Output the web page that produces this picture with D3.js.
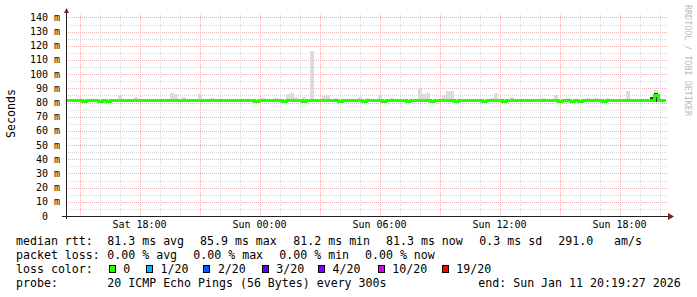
<!DOCTYPE html>
<html>
<head>
<meta charset="utf-8">
<title>SmokePing</title>
<script src="https://cdn.jsdelivr.net/npm/d3@7"></script>
<style>
  body { margin: 0; background: #fff; }
  svg text { font-family: "DejaVu Sans Mono", monospace; fill: #000; }
</style>
</head>
<body>
<div id="chart"></div>
<script>
// 30 hour window, one value every 12 minutes
const endTime = new Date(Date.UTC(2026, 0, 11, 20, 19, 27));
const spanHours = 30;
const stepMinutes = 12;

const rttMedian = [
  81.3,81.3,81.3,81.3,80.7,81.3,81.3,81.3,80.7,81.3,
  80.7,81.3,81.3,81.3,81.3,81.3,81.3,81.3,81.3,81.3,
  81.3,81.3,81.3,81.3,81.3,81.3,81.3,81.3,81.3,81.3,
  81.3,81.3,81.3,81.3,81.3,81.3,81.3,81.3,81.3,81.3,
  81.3,81.3,81.3,81.3,81.3,81.3,81.3,80.7,81.3,81.3,
  81.3,81.3,81.3,81.3,80.7,81.3,81.3,81.3,81.3,80.7,
  81.3,81.3,81.3,81.3,81.3,81.3,81.3,81.3,80.7,81.3,
  81.3,81.3,81.3,81.3,80.7,81.3,81.3,81.3,81.3,80.7,
  81.3,81.3,81.3,81.3,81.3,80.7,81.3,81.3,81.3,81.3,
  81.3,80.7,81.3,81.3,81.3,81.3,81.3,80.7,81.3,81.3,
  81.3,81.3,81.3,81.3,80.7,81.3,81.3,81.3,81.3,80.7,
  81.3,81.3,81.3,81.3,81.3,81.3,81.3,81.3,81.3,81.3,
  81.3,81.3,81.3,80.7,81.3,81.3,80.7,81.3,80.7,81.3,
  81.3,81.3,81.3,81.3,80.7,81.3,81.3,81.3,81.3,81.3,
  81.3,81.3,81.3,81.3,81.3,81.3,81.3,85.3,81.3,81.3
];

const rttMax = [
  81.9,81.9,81.9,81.9,81.9,81.9,81.9,81.9,81.9,81.9,
  81.9,81.9,81.9,85,81.9,81.9,81.9,84,81.9,81.9,
  81.9,81.9,81.9,81.9,81.9,81.9,87,86,81.9,84,
  81.9,81.9,81.9,86,81.9,81.9,83.5,81.9,81.9,81.9,
  81.9,81.9,81.9,81.9,81.9,81.9,81.9,81.9,81.9,83,
  81.9,81.9,83.5,81.9,81.9,86,87,84,81.9,84,
  81.9,116,81.9,81.9,84.5,85,81.9,83.5,81.9,81.9,
  81.9,81.9,81.9,84,81.9,83,81.9,81.9,85.3,81.9,
  81.9,83.5,81.9,81.9,81.9,81.9,81.9,81.9,90.5,86,
  86.5,81.9,81.9,81.9,85,88,88,81.9,81.9,81.9,
  81.9,81.9,81.9,81.9,81.9,81.9,83.5,86.5,81.9,81.9,
  81.9,84,81.9,81.9,81.9,81.9,81.9,81.9,81.9,83,
  81.9,81.9,85,81.9,81.9,83,81.9,81.9,81.9,81.9,
  83.5,81.9,83,81.9,81.9,83,81.9,81.9,81.9,81.9,
  88,81.9,81.9,81.9,81.9,81.9,84,88.9,81.9,81.9
];

// [step index, low, high] of the dense part of the smoke
const darkSmoke = [[146, 80.5, 84], [147, 80.5, 86.6]];

const yTicks = [0, 10, 20, 30, 40, 50, 60, 70, 80, 90, 100, 110, 120, 130, 140];
const xTickLabels = ["Sat 18:00", "Sun 00:00", "Sun 06:00", "Sun 12:00", "Sun 18:00"];

const lossLabels = ["0", "1/20", "2/20", "3/20", "4/20", "10/20", "19/20"];
const lossColors = ["#26ff00", "#00b8ff", "#0059ff", "#5e00ff", "#7e00ff", "#dd00ff", "#ff0000"];

const rttStats = ["81.3 ms avg", "85.9 ms max", "81.2 ms min", "81.3 ms now", "0.3 ms sd", "291.0", "am/s"];
const lossStats = ["0.00 % avg", "0.00 % max", "0.00 % min", "0.00 % now"];
const probeText = "20 ICMP Echo Pings (56 Bytes) every 300s";
const endText = "end: Sun Jan 11 20:19:27 2026";

const w = 697, h = 297;
const padLeft = 66, padRight = 666, padTop = 16, padBottom = 216;

const svg = d3.select('#chart').append('svg')
    .attr('width', w).attr('height', h);

const startTime = new Date(endTime.getTime() - spanHours * 3600e3);

const x = d3.scaleUtc().domain([startTime, endTime]).range([padLeft, padRight]);
const y = d3.scaleLinear().domain([0, 141]).range([padBottom, padTop]);

const crisp = v => Math.round(v) + 0.5;

// grid
const grid = svg.append('g');
d3.range(5, 141, 5).forEach(v => {
    grid.append('line')
        .attr('x1', padLeft).attr('x2', padRight + 2)
        .attr('y1', crisp(y(v))).attr('y2', crisp(y(v)))
        .attr('stroke', v % 10 ? '#dadada' : '#e8b2b2')
        .attr('stroke-dasharray', '1,1');
});
d3.utcHour.range(startTime, endTime).forEach(t => {
    grid.append('line')
        .attr('x1', crisp(x(t))).attr('x2', crisp(x(t)))
        .attr('y1', padTop - 2).attr('y2', padBottom + 2)
        .attr('stroke', t.getUTCHours() % 3 ? '#dadada' : '#e8b2b2')
        .attr('stroke-dasharray', '1,1');
});

// data points
const pts = rttMedian.map((m, i) => ({
    t: new Date(startTime.getTime() + i * stepMinutes * 60e3),
    med: m,
    max: rttMax[i]
}));
pts.push({ t: endTime, med: rttMedian[rttMedian.length - 1], max: rttMax[rttMax.length - 1] });

// smoke
svg.append('path')
    .datum(pts)
    .attr('fill', '#dcdcdc')
    .attr('shape-rendering', 'crispEdges')
    .attr('d', d3.area()
        .curve(d3.curveStepAfter)
        .x(d => x(d.t))
        .y0(d => y(d.med))
        .y1(d => y(d.max)));

svg.selectAll('rect.dark')
    .data(darkSmoke)
    .enter()
    .append('rect')
    .attr('class', 'dark')
    .attr('x', d => x(pts[d[0]].t))
    .attr('width', d => x(pts[d[0] + 1].t) - x(pts[d[0]].t))
    .attr('y', d => y(d[2]))
    .attr('height', d => y(d[1]) - y(d[2]))
    .attr('fill', '#333333')
    .attr('shape-rendering', 'crispEdges');

// median line
svg.append('path')
    .datum(pts)
    .attr('fill', 'none')
    .attr('stroke', lossColors[0])
    .attr('stroke-width', 3)
    .attr('shape-rendering', 'crispEdges')
    .attr('d', d3.line()
        .curve(d3.curveStepAfter)
        .x(d => x(d.t))
        .y(d => y(d.med)));

// axes
svg.append('line')
    .attr('x1', padLeft - 4).attr('x2', padRight + 3)
    .attr('y1', padBottom + 0.5).attr('y2', padBottom + 0.5)
    .attr('stroke', '#1f1f1f');
svg.append('line')
    .attr('x1', padLeft + 0.5).attr('x2', padLeft + 0.5)
    .attr('y1', padTop - 4).attr('y2', padBottom + 3)
    .attr('stroke', '#1f1f1f');
svg.append('path')
    .attr('d', 'M' + (padLeft - 2) + ',' + (padTop - 3) + 'L' + (padLeft + 3) + ',' + (padTop - 3) + 'L' + (padLeft + 0.5) + ',' + (padTop - 8) + 'Z')
    .attr('fill', '#7f1f1f');
svg.append('path')
    .attr('d', 'M' + (padRight + 2) + ',' + (padBottom - 3) + 'L' + (padRight + 2) + ',' + (padBottom + 4) + 'L' + (padRight + 8) + ',' + (padBottom + 0.5) + 'Z')
    .attr('fill', '#7f1f1f');

// y labels
svg.selectAll('text.ylab')
    .data(yTicks)
    .enter()
    .append('text')
    .attr('class', 'ylab')
    .attr('x', 60)
    .attr('y', d => y(d) + 3.5)
    .attr('text-anchor', 'end')
    .attr('font-size', '10px')
    .text(d => d ? d + ' m' : '0\u00a0\u00a0');

// x labels
const xTicks = x.ticks(d3.utcHour.every(6));
svg.selectAll('text.xlab')
    .data(xTicks)
    .enter()
    .append('text')
    .attr('class', 'xlab')
    .attr('x', d => x(d))
    .attr('y', 228)
    .attr('text-anchor', 'middle')
    .attr('font-size', '10px')
    .text((d, i) => xTickLabels[i]);

// axis title
svg.append('text')
    .attr('transform', 'translate(14.5,113.5) rotate(-90)')
    .attr('text-anchor', 'middle')
    .attr('font-size', '11.6px')
    .text('Seconds');

svg.append('text')
    .attr('transform', 'translate(685,5) rotate(90)')
    .attr('font-size', '8.4px')
    .style('fill', '#bbbbbb')
    .text('RRDTOOL / TOBI OETIKER');

// legend
const lg = svg.append('g').attr('font-size', '11.6px');
const row = (label, yy) => lg.append('text').attr('x', 16).attr('y', yy).text(label);

row('median rtt:', 245);
const rttX = [107.3, 200, 293.3, 386, 479.3, 558.3, 614];
rttStats.forEach((s, i) => lg.append('text').attr('x', rttX[i]).attr('y', 245).text(s));

row('packet loss:', 259);
const lossX = [107.3, 193.3, 279.3, 365];
lossStats.forEach((s, i) => lg.append('text').attr('x', lossX[i]).attr('y', 259).text(s));

row('loss color:', 273);
const boxX = [108.7, 146, 203.3, 261.7, 318, 377.7, 441.7];
lossLabels.forEach((s, i) => {
    lg.append('rect')
        .attr('x', Math.round(boxX[i]) + 0.5).attr('y', 265.5)
        .attr('width', 6).attr('height', 7)
        .attr('fill', lossColors[i])
        .attr('stroke', '#000');
    lg.append('text').attr('x', boxX[i] + 14.6).attr('y', 273).text(s);
});

row('probe:', 287);
lg.append('text').attr('x', 107.3).attr('y', 287).text(probeText);
lg.append('text').attr('x', 478.3).attr('y', 287).text(endText);
</script>
</body>
</html>
